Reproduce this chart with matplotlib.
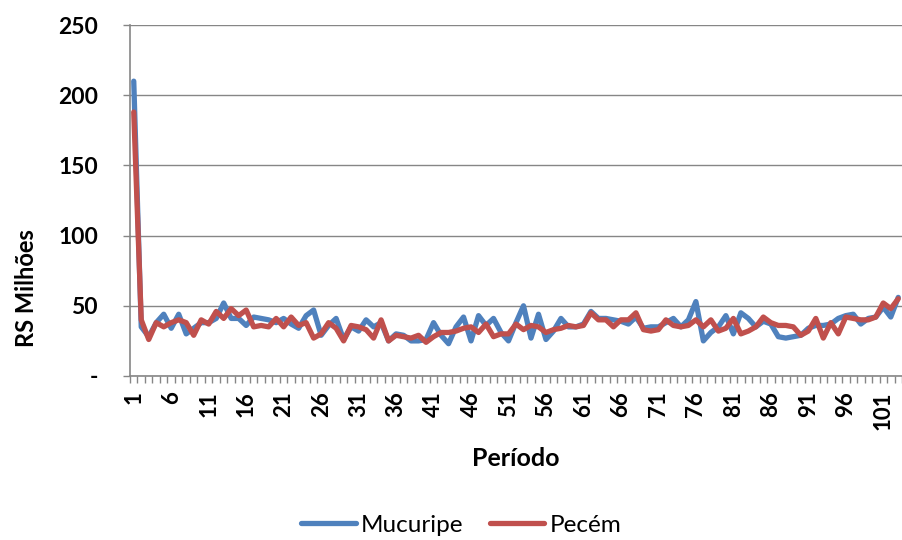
import numpy as np
import matplotlib
matplotlib.use("Agg")
import matplotlib.pyplot as plt

plt.rcParams['font.family'] = ['Lato', 'DejaVu Sans']

# Mucuripe / Pecém, periods 1..103 (R$ milhões)
mucuripe = [210, 35, 28, 38, 44, 34, 44, 30, 34, 38,
            38, 41, 52, 41, 41, 36, 42, 41, 40, 38,
            41, 37, 34, 43, 47, 29, 36, 41, 26, 35,
            32, 40, 35, 38, 25, 30, 29, 25, 25, 26,
            38, 29, 23, 35, 42, 25, 43, 36, 41, 31,
            25, 38, 50, 27, 44, 26, 32, 41, 35, 35,
            37, 46, 41, 41, 40, 39, 37, 42, 34, 35,
            35, 38, 41, 35, 40, 53, 25, 31, 35, 43,
            30, 45, 41, 35, 39, 37, 28, 27, 28, 29,
            34, 36, 36, 37, 41, 43, 44, 37, 41, 42,
            49, 42, 56]
pecem = [188, 40, 26, 38, 35, 38, 40, 38, 29, 40,
         37, 46, 41, 48, 43, 47, 35, 36, 35, 41,
         35, 42, 36, 38, 27, 30, 38, 34, 25, 36,
         35, 33, 27, 40, 25, 29, 28, 27, 29, 24,
         28, 31, 31, 32, 34, 35, 31, 37, 28, 30,
         30, 37, 33, 36, 35, 31, 33, 34, 36, 35,
         36, 45, 40, 40, 35, 40, 40, 45, 33, 32,
         33, 40, 36, 35, 36, 40, 35, 40, 32, 34,
         41, 30, 32, 35, 42, 38, 36, 36, 35, 29,
         32, 41, 27, 38, 30, 42, 41, 40, 40, 42,
         52, 48, 55]
periods = np.arange(1, len(mucuripe) + 1)
tick_periods = list(range(1, 102, 5))
y_ticks = [0, 50, 100, 150, 200, 250]
y_labels = ['-', '50', '100', '150', '200', '250']

grey = '#868686'

fig = plt.figure(figsize=(9.02, 5.4), dpi=100)
ax = fig.add_axes([130 / 902, 164 / 540, 772 / 902, 351 / 540])

ax.plot(periods, mucuripe, color='#4F81BD', lw=3.8, label='Mucuripe',
        solid_joinstyle='round', solid_capstyle='round')
ax.plot(periods, pecem, color='#C0504D', lw=3.8, label='Pecém',
        solid_joinstyle='round', solid_capstyle='round')

ax.set_xlim(0.5, 0.5 + 772 / 7.54)
ax.set_ylim(0, 250)

ax.set_yticks(y_ticks)
ax.set_yticklabels(y_labels, fontsize=16.5, fontweight='bold')
ax.yaxis.grid(True, color=grey, lw=1)
ax.set_axisbelow(True)

ax.set_xticks(tick_periods)
ax.set_xticklabels([str(p) for p in tick_periods], rotation=90,
                   fontsize=16, fontweight='bold')
ax.set_xticks(np.arange(0.5, 104, 1), minor=True)
ax.tick_params(axis='x', which='major', length=0, pad=11)
ax.tick_params(axis='x', which='minor', length=5, color=grey, width=1)
ax.tick_params(axis='y', length=5, color=grey, width=1, pad=18)

for s in ['top', 'right']:
    ax.spines[s].set_visible(False)
for s in ['left', 'bottom']:
    ax.spines[s].set_color(grey)
    ax.spines[s].set_linewidth(1.2)

fig.text(516 / 902, 1 - 458 / 540, 'Período', ha='center', va='center',
         fontsize=18, fontweight='bold')
fig.text(27 / 902, 1 - 288 / 540, 'RS Milhões', ha='center', va='center',
         rotation=90, fontsize=17, fontweight='bold')

fig.legend(loc='center', bbox_to_anchor=(461 / 902, 1 - 525 / 540), ncol=2,
           frameon=False, fontsize=17.5, handlelength=2.25,
           handletextpad=0.2, columnspacing=1.1, borderpad=0.2)

fig.savefig('out.png', dpi=100)
